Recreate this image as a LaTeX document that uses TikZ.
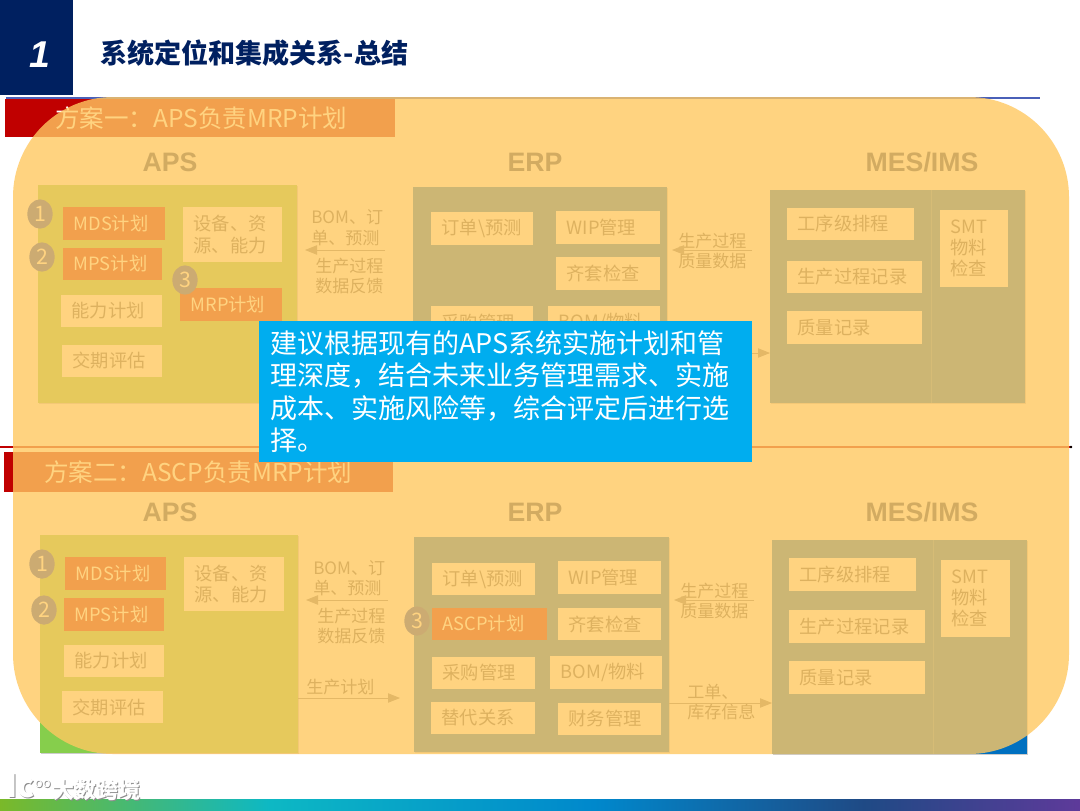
\documentclass[tikz,border=0pt]{standalone}
\usepackage{fontspec}
\usetikzlibrary{arrows.meta,shapes.geometric,shadows}
\setmainfont{Noto Sans CJK SC}
\newfontfamily\headfont{Liberation Sans}
\definecolor{navy}{HTML}{002060}
\definecolor{topline}{HTML}{4A60B8}
\definecolor{redbox}{HTML}{C00000}
\definecolor{panelgreen}{HTML}{86CE4C}
\definecolor{panelblue}{HTML}{0070C0}
\definecolor{boxtext}{HTML}{595959}
\definecolor{headtext}{HTML}{1F3864}
\definecolor{markcol}{HTML}{0038B8}
\definecolor{veilcol}{HTML}{FFC861}
\definecolor{callcol}{HTML}{00ADEF}
\definecolor{bandA}{HTML}{7AB929}
\definecolor{bandB}{HTML}{0DB8C4}
\definecolor{bandC}{HTML}{0088CC}
\definecolor{bandD}{HTML}{1F4A85}
\definecolor{bandE}{HTML}{5E3A9A}
\pgfdeclarehorizontalshading{bandshade}{100bp}{color(0bp)=(bandA); color(25bp)=(bandA); color(37.5bp)=(bandB); color(52.5bp)=(bandC); color(65bp)=(bandD); color(75bp)=(bandE); color(100bp)=(bandE)}
\tikzset{
  whitebox/.style={fill=white,text=boxtext,inner xsep=8pt,inner ysep=0pt,align=left,font=\fontsize{13.7}{16}\selectfont},
  redmark/.style={whitebox,fill=redbox,text=white},
  marknum/.style={ellipse,fill=markcol,text=white,inner sep=0pt,minimum width=19pt,minimum height=22pt,font=\fontsize{16}{16}\selectfont},
  headlabel/.style={text=headtext,inner sep=0pt,font=\headfont\bfseries\fontsize{20}{20}\selectfont},
  flowlabel/.style={text=boxtext,anchor=west,inner sep=0pt,align=left,font=\fontsize{12.8}{15.5}\selectfont},
  flowarrow/.style={draw=boxtext!80,line width=0.6pt,-{Triangle[length=9pt,width=7pt]}},
  schemebar/.style={fill=redbox,text=white,anchor=west,inner ysep=0pt,inner xsep=0pt,align=left,font=\fontsize{18.4}{18.4}\selectfont},
  markshade/.style={text=black!45,inner sep=0pt},
  markfront/.style={text=white,inner sep=0pt}
}
% box from its corners: name, style, x1, y1, x2, y2, text
\newcommand{\boxat}[7]{%
  \pgfmathsetmacro{\boxtw}{(#5-#3)*0.75-16}
  \pgfmathsetmacro{\boxmw}{(#5-#3)*0.75}
  \pgfmathsetmacro{\boxmh}{(#6-#4)*0.75}
  \node[#2,text width=\boxtw pt,minimum width=\boxmw pt,minimum height=\boxmh pt] (#1) at ({(#3+#5)/2},{(#4+#6)/2}) {#7};}
\newcommand{\panelat}[6]{%
  \pgfmathsetmacro{\boxmw}{(#4-#2)*0.75}
  \pgfmathsetmacro{\boxmh}{(#5-#3)*0.75}
  \node[fill=#6,inner sep=0pt,minimum width=\boxmw pt,minimum height=\boxmh pt,drop shadow={shadow xshift=1pt,shadow yshift=-1pt,opacity=0.4}] (#1) at ({(#2+#4)/2},{(#3+#5)/2}) {};}
\begin{document}
\begin{tikzpicture}[x=0.75pt,y=-0.75pt]
  \useasboundingbox (0,0) rectangle (1080,810);
  \fill[white] (0,0) rectangle (1080,810);
  % top line and middle line
  \draw[line width=2.2pt,color=topline] (6,98) -- (1040,98);
  \draw[line width=1.6pt,color=redbox] (0,447) -- (1072,447);
  \fill[black] (1071,447) circle (1pt);
  % scheme one
  \node[schemebar,text width=292.5pt,minimum height=28.5pt] (barone) at (5,118) {\hspace{37.5pt}方案一：APS负责MRP计划};
  \node[headlabel] (apsone) at (170,162) {APS};
  \node[headlabel] (erpone) at (535,162) {ERP};
  \node[headlabel] (mesone) at (922,162) {MES/IMS};
  \panelat{apspanelone}{38}{185}{297}{403}{panelgreen}
  \panelat{erppanelone}{413}{187}{667}{403}{panelblue}
  \panelat{mespanelone}{770}{190}{1025}{403}{panelblue}
  \boxat{mdsone}{redmark}{63}{207}{165}{240}{MDS计划}
  \boxat{mpsone}{redmark}{63}{248}{162}{280}{MPS计划}
  \boxat{mrpone}{redmark}{180}{288}{282}{321}{MRP计划}
  \boxat{resone}{whitebox}{183}{207}{282}{262}{设备、资\\源、能力}
  \boxat{capone}{whitebox}{61}{295}{162}{327}{能力计划}
  \boxat{dueone}{whitebox}{62}{345}{162}{377}{交期评估}
  \boxat{ordone}{whitebox}{431}{212}{533}{245}{订单\textbackslash 预测}
  \boxat{wipone}{whitebox}{556}{211}{660}{244}{WIP管理}
  \boxat{kitone}{whitebox}{556}{257}{660}{290}{齐套检查}
  \boxat{purone}{whitebox}{431}{306}{533}{339}{采购管理}
  \boxat{bomone}{whitebox}{548}{306}{660}{339}{BOM/物料}
  \boxat{schone}{whitebox}{787}{208}{914}{240}{工序级排程}
  \boxat{recone}{whitebox}{787}{261}{922}{293}{生产过程记录}
  \boxat{quaone}{whitebox}{787}{311}{922}{344}{质量记录}
  \boxat{smtone}{whitebox}{940}{210}{1008}{287}{SMT\\物料\\检查}
  \node[marknum] (numoneA) at (40,214) {1};
  \node[marknum] (numoneB) at (42,257) {2};
  \node[marknum] (numoneC) at (185,280) {3};
  \node[flowlabel] (lbloneA) at (311,228) {BOM、订\\单、预测};
  \node[flowlabel] (lbloneB) at (315,276) {生产过程\\数据反馈};
  \node[flowlabel] (lbloneC) at (678,251) {生产过程\\质量数据};
  % scheme two
  \node[schemebar,text width=291.75pt,minimum height=30pt] (bartwo) at (4,472) {\hspace{30pt}方案二：ASCP负责MRP计划};
  \node[headlabel] (apstwo) at (170,512) {APS};
  \node[headlabel] (erptwo) at (535,512) {ERP};
  \node[headlabel] (mestwo) at (922,512) {MES/IMS};
  \panelat{apspaneltwo}{40}{535}{298}{753}{panelgreen}
  \panelat{erppaneltwo}{414}{537}{669}{752}{panelblue}
  \panelat{mespaneltwo}{772}{540}{1027}{754}{panelblue}
  \boxat{mdstwo}{redmark}{65}{557}{166}{590}{MDS计划}
  \boxat{mpstwo}{redmark}{64}{598}{164}{631}{MPS计划}
  \boxat{restwo}{whitebox}{184}{557}{284}{611}{设备、资\\源、能力}
  \boxat{captwo}{whitebox}{64}{645}{164}{677}{能力计划}
  \boxat{duetwo}{whitebox}{62}{691}{163}{723}{交期评估}
  \boxat{ordtwo}{whitebox}{432}{563}{535}{595}{订单\textbackslash 预测}
  \boxat{asctwo}{redmark}{432}{608}{547}{640}{ASCP计划}
  \boxat{purtwo}{whitebox}{432}{657}{535}{689}{采购管理}
  \boxat{subtwo}{whitebox}{431}{702}{535}{734}{替代关系}
  \boxat{wiptwo}{whitebox}{558}{561}{661}{594}{WIP管理}
  \boxat{kittwo}{whitebox}{558}{608}{661}{640}{齐套检查}
  \boxat{bomtwo}{whitebox}{550}{656}{662}{689}{BOM/物料}
  \boxat{fintwo}{whitebox}{558}{703}{661}{735}{财务管理}
  \boxat{schtwo}{whitebox}{789}{558}{916}{591}{工序级排程}
  \boxat{rectwo}{whitebox}{789}{610}{925}{643}{生产过程记录}
  \boxat{quatwo}{whitebox}{789}{661}{925}{694}{质量记录}
  \boxat{smttwo}{whitebox}{941}{560}{1010}{637}{SMT\\物料\\检查}
  \node[marknum] (numtwoA) at (42,564) {1};
  \node[marknum] (numtwoB) at (44,610) {2};
  \node[marknum] (numtwoC) at (417,621) {3};
  \node[flowlabel] (lbltwoA) at (313,578) {BOM、订\\单、预测};
  \node[flowlabel] (lbltwoB) at (317,626) {生产过程\\数据反馈};
  \node[flowlabel] (lbltwoC) at (680,601) {生产过程\\质量数据};
  \node[flowlabel] (lbltwoD) at (306,687) {生产计划};
  \node[flowlabel] (lbltwoE) at (687,702) {工单、\\库存信息};
  % connectors
  \foreach \nm/\xa/\xb/\yy in {arra/385/305/250,arrb/752/672/250,arrc/667/770/353,arrd/388/306/600,arre/754/674/600,arrf/298/400/698,arrg/669/772/703}{
    \coordinate (\nm tail) at (\xa,\yy);
    \coordinate (\nm tip) at (\xb,\yy);
    \draw[flowarrow] (\nm tail) -- (\nm tip);
  }
  % divider in the right hand panels
  \draw[white!20!panelblue,line width=0.5pt] (931,190) -- (931,403);
  \draw[white!20!panelblue,line width=0.5pt] (933,540) -- (933,754);
  % header
  \fill[navy] (0,0) rectangle (73,95);
  \node[text=white,inner sep=0pt,font=\headfont\bfseries\itshape\fontsize{28}{28}\selectfont] (secnum) at (40,55) {1};
  \node[text=navy,anchor=west,inner sep=0pt,font=\bfseries\fontsize{20.3}{20.3}\selectfont] (title) at (100,53) {系统定位和集成关系-总结};
  % veil over the whole slide body
  \fill[veilcol,opacity=0.8,rounded corners=75pt] (13,97) rectangle (1069,754);
  % callout
  \node[fill=callcol,text=white,inner sep=0pt,minimum width=369.75pt,minimum height=105.75pt] (callout) at (505.5,391.5) {};
  \node[text=white,anchor=north west,inner sep=0pt,align=left,font=\fontsize{20.25}{24.4}\selectfont] (calltext) at (270,330) {建议根据现有的APS系统实施计划和管\\理深度，结合未来业务管理需求、实施\\成本、实施风险等，综合评定后进行选\\择。};
  % bottom band and watermark
  \fill[shading=bandshade] (0,799) rectangle (1080,810);
  \foreach \dx/\sty in {1/markshade,0/markfront}{
    \node[\sty,anchor=west,font=\bfseries\fontsize{24}{24}\selectfont] (logo\dx) at (6+\dx,786+\dx) {Ic\raisebox{8pt}{\mdseries\fontsize{10}{10}\selectfont oo}};
    \node[\sty,anchor=west,font=\bfseries\fontsize{16.5}{16.5}\selectfont] (mark\dx) at (52+\dx,790+\dx) {大数跨境};
  }
\end{tikzpicture}
\end{document}
